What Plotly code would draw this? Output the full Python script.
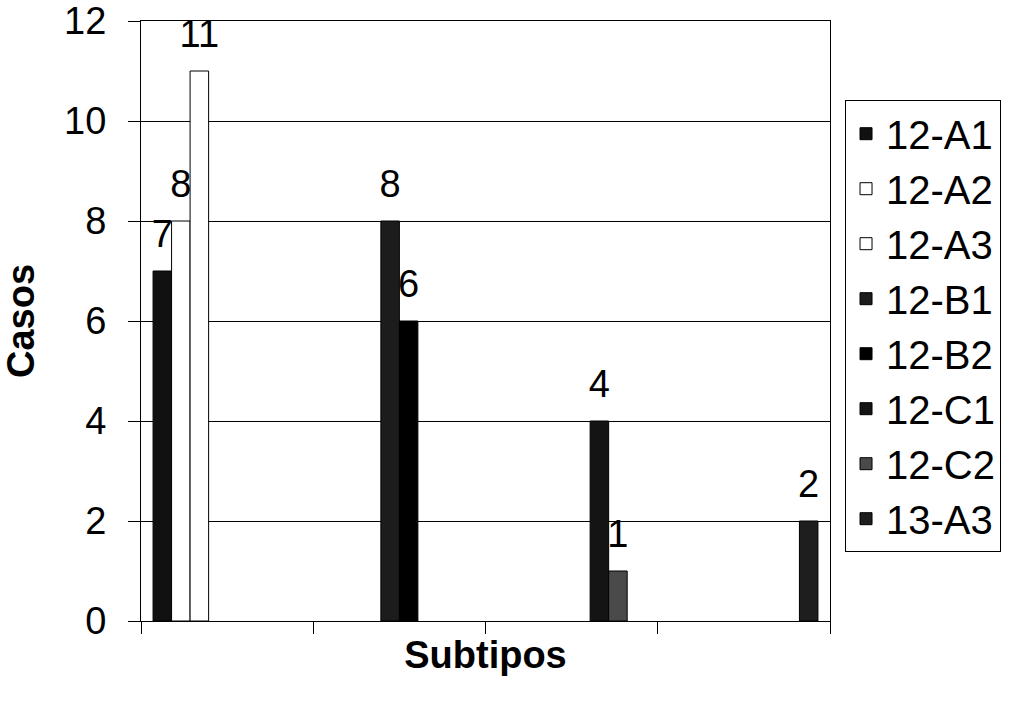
import plotly.graph_objects as go

# ---- data ----
categories = ["12-A", "12-B", "12-C", "13-A"]
series = ["12-A1", "12-A2", "12-A3", "12-B1", "12-B2", "12-C1", "12-C2", "13-A3"]
series_category = ["12-A", "12-A", "12-A", "12-B", "12-B", "12-C", "12-C", "13-A"]
values = [7, 8, 11, 8, 6, 4, 1, 2]
colors = ["#111111", "#ffffff", "#ffffff", "#1c1c1c", "#000000", "#141414", "#4a4a4a", "#1e1e1e"]

y_ticks = [0, 2, 4, 6, 8, 10, 12]
x_title = "Subtipos"
y_title = "Casos"

FONT = "Arial, Liberation Sans, sans-serif"
FS = 38
GAP = 0.14

fig = go.Figure()

for name, cat, val, col in zip(series, series_category, values, colors):
    fig.add_trace(go.Bar(
        name=name, x=[cat], y=[val],
        marker=dict(color=col, line=dict(color="#000000", width=1)),
        hoverinfo="skip",
    ))

# value labels, positioned through grouped scatter so they sit over each bar slot
for name, cat, val in zip(series, series_category, values):
    fig.add_trace(go.Scatter(
        x=[cat], y=[val], mode="markers+text", text=[str(val)],
        textposition="top center",
        textfont=dict(family=FONT, size=FS, color="#000000"),
        marker=dict(size=22, opacity=0),
        showlegend=False, hoverinfo="skip", cliponaxis=False,
    ))

fig.update_layout(
    width=1017, height=728,
    margin=dict(l=141, r=187, t=21, b=107),
    paper_bgcolor="#ffffff", plot_bgcolor="#ffffff",
    barmode="group", bargap=GAP, bargroupgap=0,
    scattermode="group", scattergap=GAP,
    font=dict(family=FONT, size=FS, color="#000000"),
    legend=dict(
        x=1.0218, y=0.868, xanchor="left", yanchor="top",
        bgcolor="#ffffff", bordercolor="#000000", borderwidth=1,
        font=dict(family=FONT, size=40, color="#000000"),
        traceorder="normal",
    ),
    xaxis=dict(
        type="category", categoryorder="array", categoryarray=categories,
        showticklabels=False, tickson="boundaries", automargin=False,
        ticks="outside", ticklen=12, tickcolor="#000000", tickwidth=1,
        showline=True, linecolor="#000000", linewidth=1, mirror=True,
        showgrid=False, zeroline=False,
        title=dict(text="<b>" + x_title + "</b>", font=dict(family=FONT, size=FS), standoff=20),
    ),
    yaxis=dict(
        range=[0, 12], tickvals=y_ticks, automargin=False,
        ticks="outside", ticklen=12, tickcolor="#000000", tickwidth=1,
        ticklabelstandoff=14,
        showline=True, linecolor="#000000", linewidth=1, mirror=True,
        showgrid=True, gridcolor="#000000", gridwidth=1,
        zeroline=False,
        tickfont=dict(family=FONT, size=FS),
        title=dict(text="<b>" + y_title + "</b>", font=dict(family=FONT, size=FS), standoff=17),
    ),
)

fig.write_html("out.html")
